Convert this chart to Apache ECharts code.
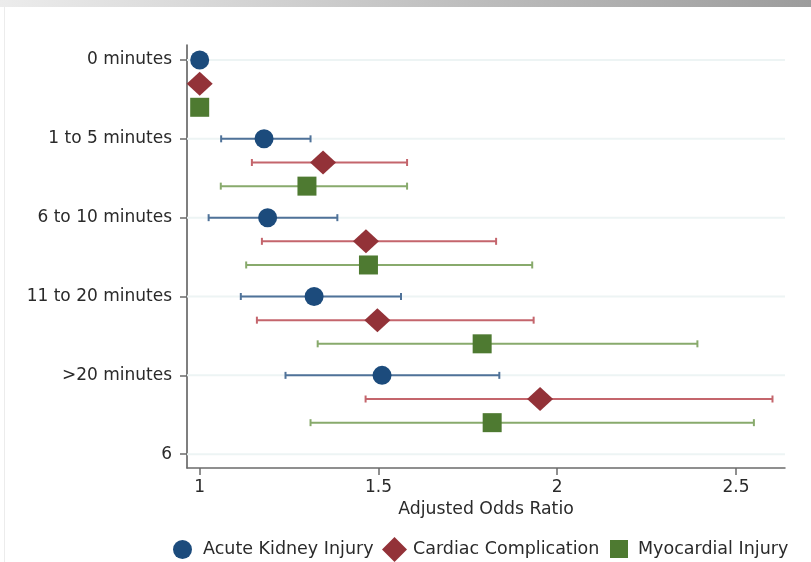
<!DOCTYPE html>
<html>
<head>
<meta charset="utf-8">
<title>Adjusted Odds Ratio by delay</title>
<script src="https://cdn.jsdelivr.net/npm/echarts@6/dist/echarts.min.js"></script>
<style>
  html, body { margin: 0; padding: 0; background: #fff; }
  #chart { width: 811px; height: 562px; }
</style>
</head>
<body>
<div id="chart"></div>
<script>
// Row labels (top to bottom) and x tick values
const categories = ['0 minutes', '1 to 5 minutes', '6 to 10 minutes', '11 to 20 minutes', '>20 minutes', '6'];
const xTicks = [1, 1.5, 2, 2.5];

// Acute kidney injury: odds ratio and 95% CI
const akiOR   = [1.00, 1.18, 1.19, 1.32, 1.51];
const akiLow  = [null, 1.06, 1.025, 1.115, 1.24];
const akiHigh = [null, 1.31, 1.385, 1.563, 1.838];

// Cardiac complication
const cardiacOR   = [1.00, 1.345, 1.465, 1.497, 1.952];
const cardiacLow  = [null, 1.146, 1.174, 1.16, 1.464];
const cardiacHigh = [null, 1.58, 1.829, 1.934, 2.602];

// Myocardial injury
const myoOR   = [1.00, 1.30, 1.472, 1.79, 1.818];
const myoLow  = [null, 1.059, 1.13, 1.33, 1.31];
const myoHigh = [null, 1.58, 1.93, 2.392, 2.55];

const FONT = 'DejaVu Sans';
const TEXT = '#2a2a2a';
const X_MIN = 0.9645, X_MAX = 2.637;

// each outcome sits a little below its row label
const ROW_STEP = 0.3;

const groups = [
  { name: 'Acute Kidney Injury',   or: akiOR,     lo: akiLow,     hi: akiHigh,     symbol: 'circle',  size: 19,       color: '#1c4b7c', bar: '#4f7299' },
  { name: 'Cardiac Complication',  or: cardiacOR, lo: cardiacLow, hi: cardiacHigh, symbol: 'diamond', size: [26, 24], color: '#933238', bar: '#c4656c' },
  { name: 'Myocardial Injury',     or: myoOR,     lo: myoLow,     hi: myoHigh,     symbol: 'rect',    size: 19,       color: '#4e7a31', bar: '#88aa6c' }
];

const series = [];

// faint horizontal guide at each row label
series.push({
  name: 'row guides',
  type: 'custom',
  z: 1,
  silent: true,
  encode: { y: 0 },
  data: categories.map(function (c, i) { return [i]; }),
  renderItem: function (params, api) {
    const y = api.value(0);
    const a = api.coord([X_MIN, y]);
    const b = api.coord([X_MAX, y]);
    return { type: 'line', shape: { x1: a[0], y1: a[1], x2: b[0], y2: b[1] }, style: { stroke: '#edf4f4', lineWidth: 2 } };
  }
});

groups.forEach(function (g, k) {
  const ciData = [];
  g.or.forEach(function (v, i) {
    if (g.lo[i] != null && g.hi[i] != null) ciData.push([i + k * ROW_STEP, g.lo[i], g.hi[i]]);
  });
  series.push({
    name: g.name + ' CI',
    type: 'custom',
    z: 2,
    silent: true,
    encode: { x: [1, 2], y: 0 },
    data: ciData,
    renderItem: function (params, api) {
      const y = api.value(0);
      const a = api.coord([api.value(1), y]);
      const b = api.coord([api.value(2), y]);
      const h = 3.5;
      const style = { stroke: g.bar, lineWidth: 2 };
      return {
        type: 'group',
        children: [
          { type: 'line', shape: { x1: a[0], y1: a[1], x2: b[0], y2: b[1] }, style: style },
          { type: 'line', shape: { x1: a[0], y1: a[1] - h, x2: a[0], y2: a[1] + h }, style: style },
          { type: 'line', shape: { x1: b[0], y1: b[1] - h, x2: b[0], y2: b[1] + h }, style: style }
        ]
      };
    }
  });
});

groups.forEach(function (g, k) {
  series.push({
    name: g.name,
    type: 'scatter',
    z: 4,
    symbol: g.symbol,
    symbolSize: g.size,
    itemStyle: { color: g.color, opacity: 1 },
    data: g.or.map(function (v, i) { return [v, i + k * ROW_STEP]; })
  });
});

// one legend block per outcome so each key symbol keeps its own size
function legendBlock(name, icon, left, top, box, gap) {
  return {
    left: left, top: top, padding: 0,
    itemWidth: box, itemHeight: box,
    selectedMode: false,
    textStyle: { fontFamily: FONT, fontSize: 17.5, color: TEXT, padding: [0, 0, 0, gap] },
    data: [{ name: name, icon: icon }]
  };
}

const chart = echarts.init(document.getElementById('chart'), null, { renderer: 'canvas' });
chart.setOption({
  animation: false,
  backgroundColor: '#ffffff',
  textStyle: { fontFamily: FONT },
  graphic: [
    {
      type: 'rect', left: 0, top: 0, z: 100, silent: true,
      shape: { width: 811, height: 7 },
      style: {
        fill: new echarts.graphic.LinearGradient(0, 0, 1, 0, [
          { offset: 0, color: '#ececec' },
          { offset: 1, color: '#9c9c9c' }
        ])
      }
    },
    {
      type: 'rect', left: 4, top: 7, z: 100, silent: true,
      shape: { width: 1, height: 555 },
      style: { fill: '#ececec' }
    }
  ],
  grid: { left: 187, right: 26, top: 45, bottom: 94, containLabel: false },
  xAxis: {
    type: 'value',
    min: X_MIN,
    max: X_MAX,
    name: 'Adjusted Odds Ratio',
    nameLocation: 'middle',
    nameGap: 30,
    nameTextStyle: { fontFamily: FONT, fontSize: 17.3, color: TEXT },
    axisLine: { show: true, onZero: false, lineStyle: { color: '#6b6b6b', width: 1.5 } },
    axisTick: { show: true, length: 7, customValues: xTicks, lineStyle: { color: '#6b6b6b', width: 1.5 } },
    axisLabel: {
      customValues: xTicks,
      margin: 11,
      fontFamily: FONT, fontSize: 17, color: TEXT,
      formatter: function (v) { return String(v); }
    },
    splitLine: { show: false }
  },
  yAxis: {
    type: 'value',
    inverse: true,
    min: -0.19,
    max: 5.175,
    axisLine: { show: true, onZero: false, lineStyle: { color: '#555555', width: 1.5 } },
    axisTick: { show: true, length: 7, customValues: [0, 1, 2, 3, 4, 5], lineStyle: { color: '#6b6b6b', width: 1.5 } },
    axisLabel: {
      customValues: [0, 1, 2, 3, 4, 5],
      margin: 15,
      fontFamily: FONT, fontSize: 17, color: TEXT,
      formatter: function (v) { return categories[Math.round(v)]; }
    },
    splitLine: { show: false }
  },
  legend: [
    legendBlock('Acute Kidney Injury', 'circle', 173, 540, 19, 6),
    legendBlock('Cardiac Complication', 'diamond', 382, 537, 25, 1),
    legendBlock('Myocardial Injury', 'rect', 610, 540, 18, 5)
  ],
  series: series
});
</script>
</body>
</html>
